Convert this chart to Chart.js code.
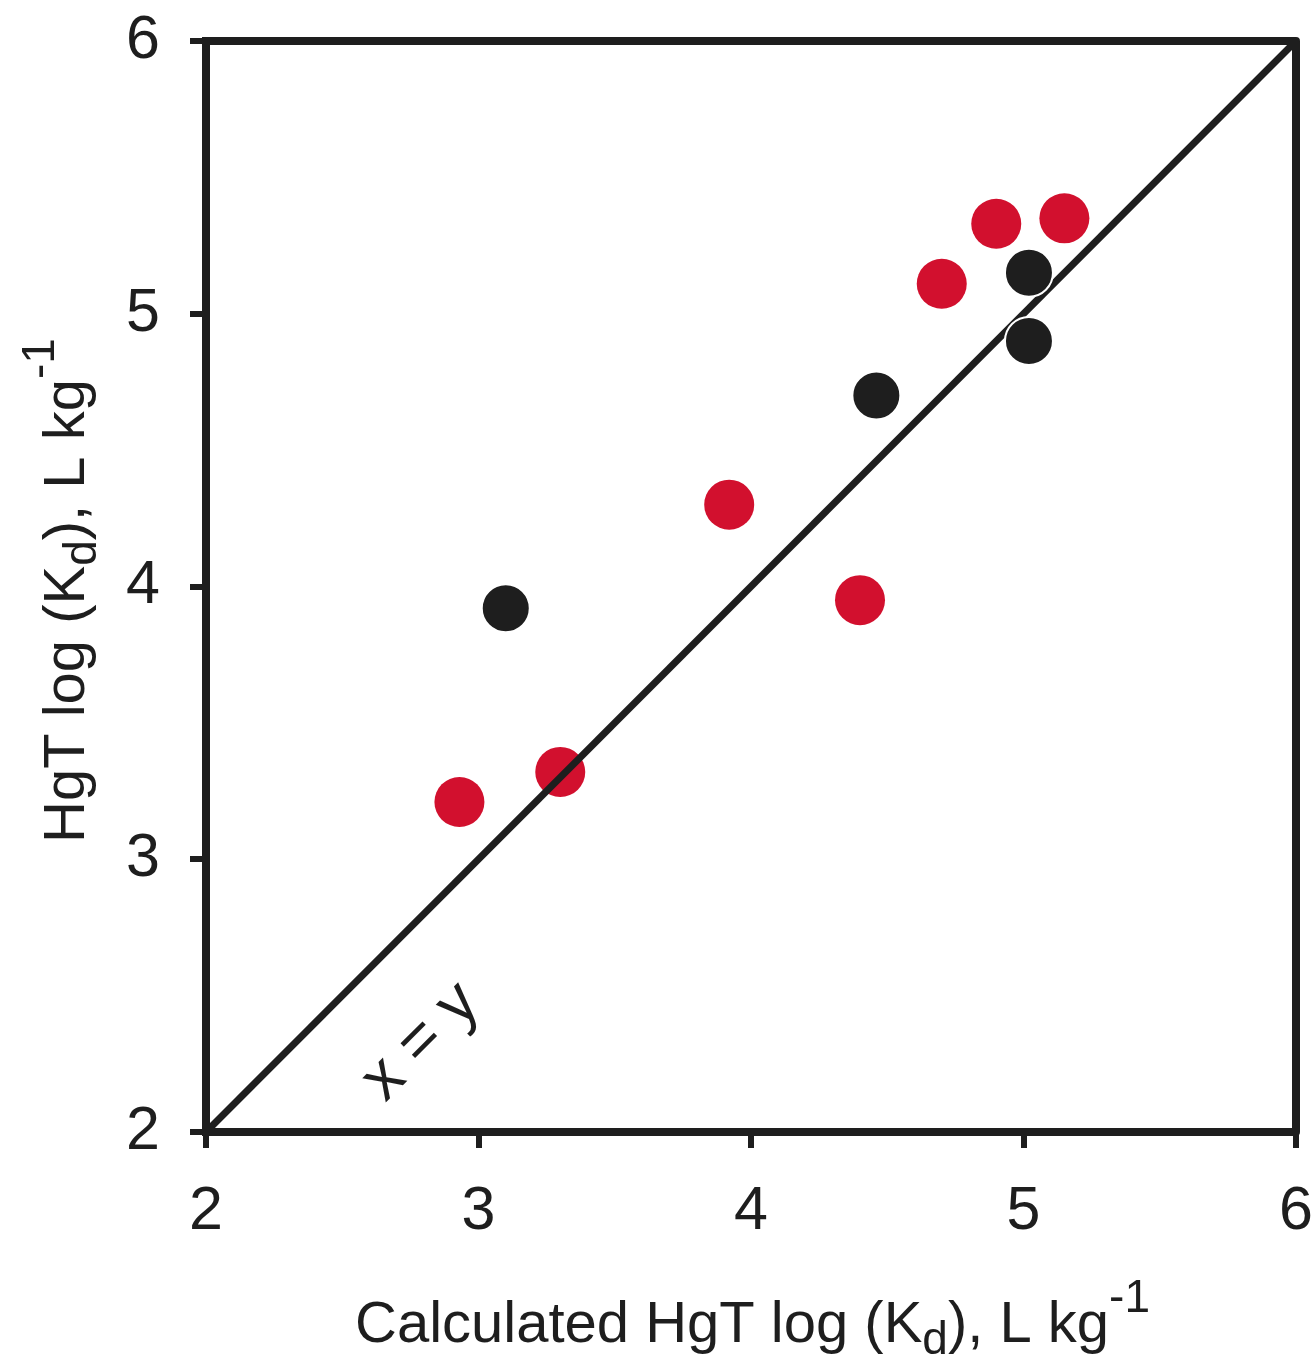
<!DOCTYPE html>
<html>
<head>
<meta charset="utf-8">
<script src="https://cdn.jsdelivr.net/npm/chart.js@4.4.1/dist/chart.umd.min.js"></script>
<style>
  body { margin: 0; background: #fff; }
  canvas { display: block; }
</style>
</head>
<body>
<canvas id="myChart" width="1313" height="1361"></canvas>
<script>
const redX = [2.93, 3.30, 3.92, 4.40, 4.70, 4.90, 5.15];
const redY = [3.21, 3.32, 4.30, 3.95, 5.11, 5.33, 5.35];
const blackX = [3.10, 4.46, 5.02, 5.02];
const blackY = [3.92, 4.70, 5.15, 4.90];
const lineX = [2, 6];
const lineY = [2, 6];
const tickValues = [2, 3, 4, 5, 6];

const ink = '#1e1e1e';
const red = '#d2102e';
const fontFamily = '"Liberation Sans", Arial, sans-serif';

const toPoints = (xs, ys) => xs.map((x, i) => ({ x: x, y: ys[i] }));

// draws text made of pieces (normal, subscript, superscript) from a start point
function drawRich(ctx, parts, x, y, angle) {
    ctx.save();
    ctx.translate(x, y);
    ctx.rotate(angle);
    ctx.fillStyle = ink;
    ctx.textAlign = 'left';
    ctx.textBaseline = 'alphabetic';
    let pos = 0;
    parts.forEach(p => {
        ctx.font = p.size + 'px ' + fontFamily;
        ctx.fillText(p.text, pos, p.dy || 0);
        pos += ctx.measureText(p.text).width;
    });
    ctx.restore();
}

const framePlugin = {
    id: 'frame',
    afterDatasetsDraw(chart) {
        const { ctx, chartArea: a } = chart;
        ctx.save();
        ctx.strokeStyle = ink;
        ctx.lineWidth = 8;
        ctx.lineJoin = 'round';
        ctx.strokeRect(a.left, a.top, a.right - a.left, a.bottom - a.top);
        ctx.restore();
    },
    afterDraw(chart) {
        const ctx = chart.ctx;
        const xs = chart.scales.x, ys = chart.scales.y;

        drawRich(ctx, [
            { text: 'Calculated HgT log (K', size: 58 },
            { text: 'd', size: 46, dy: 12 },
            { text: '), L kg', size: 58 },
            { text: '-1', size: 46, dy: -30 }
        ], 355, 1342, 0);

        drawRich(ctx, [
            { text: 'HgT log (K', size: 58 },
            { text: 'd', size: 46, dy: 12 },
            { text: '), L kg', size: 58 },
            { text: '-1', size: 46, dy: -30 }
        ], 84, 843, -Math.PI / 2);

        // x = y label along the diagonal
        ctx.save();
        ctx.translate(xs.getPixelForValue(2.79), ys.getPixelForValue(2.33));
        ctx.rotate(-Math.PI / 4);
        ctx.font = '64px ' + fontFamily;
        ctx.fillStyle = ink;
        ctx.textAlign = 'center';
        ctx.textBaseline = 'middle';
        ctx.fillText('x = y', 0, 0);
        ctx.restore();
    }
};

// drop the extra room Chart.js keeps for end labels so the plot box sits where the figure has it
const noEdgePadding = s => {
    s.paddingTop = 0;
    s.paddingBottom = 0;
    s.paddingLeft = 0;
    s.paddingRight = 0;
};

const axisOpts = {
    type: 'linear',
    min: 2,
    max: 6,
    afterBuildTicks: s => { s.ticks = tickValues.map(v => ({ value: v })); },
    border: { display: true, color: ink, width: 8 },
    grid: {
        drawOnChartArea: false,
        drawTicks: true,
        tickLength: 16,
        color: ink,
        lineWidth: 6
    },
    title: { display: false }
};

new Chart(document.getElementById('myChart').getContext('2d'), {
    type: 'scatter',
    data: {
        datasets: [
            {
                label: 'black',
                data: toPoints(blackX, blackY),
                backgroundColor: ink,
                borderColor: '#ffffff',
                borderWidth: 2,
                pointRadius: 24,
                order: 0
            },
            {
                label: 'x = y',
                type: 'line',
                data: toPoints(lineX, lineY),
                borderColor: ink,
                borderWidth: 7,
                pointRadius: 0,
                fill: false,
                order: 1
            },
            {
                label: 'red',
                data: toPoints(redX, redY),
                backgroundColor: red,
                borderColor: red,
                borderWidth: 0,
                pointRadius: 25,
                order: 2
            }
        ]
    },
    options: {
        responsive: false,
        animation: false,
        layout: { autoPadding: false, padding: { top: 41, right: 17, left: 0, bottom: 0 } },
        plugins: {
            legend: { display: false },
            tooltip: { enabled: false }
        },
        scales: {
            x: Object.assign({}, axisOpts, {
                position: 'bottom',
                ticks: { color: ink, font: { size: 61, family: fontFamily }, padding: 28, maxRotation: 0 },
                afterFit: s => { s.height = 229; noEdgePadding(s); }
            }),
            y: Object.assign({}, axisOpts, {
                position: 'left',
                ticks: { color: ink, font: { size: 61, family: fontFamily }, padding: 30 },
                afterFit: s => { s.width = 206; noEdgePadding(s); }
            })
        }
    },
    plugins: [framePlugin]
});
</script>
</body>
</html>
